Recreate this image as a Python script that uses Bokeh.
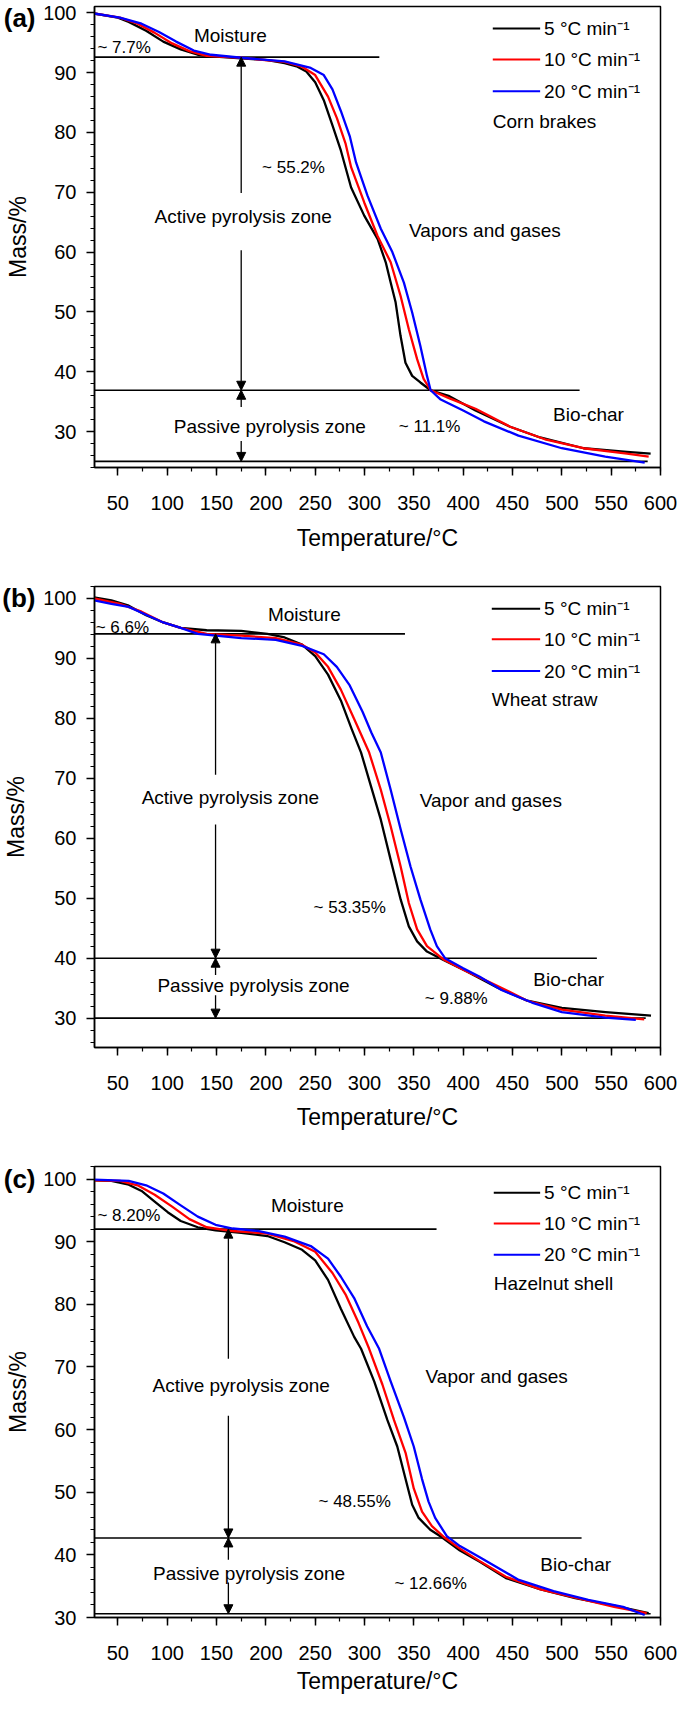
from bokeh.plotting import figure
from bokeh.layouts import column
from bokeh.models import (Label, Arrow, NormalHead, SingleIntervalTicker, FixedTicker,
                          LinearAxis, Range1d)
from bokeh.embed import file_html
from bokeh.resources import INLINE

FONT = "Liberation Sans"

# ---------------- data ----------------
rate_labels = ["5 °C min⁻¹", "10 °C min⁻¹", "20 °C min⁻¹"]
rate_colors = ["#000000", "#ff0000", "#0000ff"]
x_label = "Temperature/°C"
y_label = "Mass/%"

# (a) Corn brakes
a_T5 = [25.8, 50, 61, 78.6, 96, 113.7, 131, 149, 175, 201.6, 219, 232, 241, 250, 258.7, 267.5, 276, 286.4, 299.7, 313.2, 321.5, 326.5, 331.5, 336.5, 341.5, 348.3, 356.6, 367, 386, 412.5, 447.6, 478, 522, 566, 590]
a_M5 = [99.9, 99.2, 98.5, 97.0, 95.2, 93.9, 93.0, 92.7, 92.4, 92.1, 91.6, 91.0, 90.2, 88.4, 85.4, 81.2, 77.0, 70.8, 66.1, 62.2, 58.3, 54.9, 51.6, 46.0, 41.5, 39.3, 38.2, 36.9, 35.9, 33.5, 30.8, 29.0, 27.2, 26.6, 26.3]
a_T10 = [25.8, 52, 70, 87, 105, 122.5, 140, 175, 219, 236.7, 250, 263, 272, 280.7, 286.4, 299.7, 313.2, 326.5, 336.5, 344.9, 353.3, 359.9, 367, 386.8, 412.5, 447.6, 482.8, 522, 566, 588]
a_M10 = [99.9, 99.2, 98.2, 96.7, 94.9, 93.6, 92.8, 92.5, 91.8, 91.0, 89.6, 86.0, 82.4, 78.2, 74.2, 68.3, 62.7, 58.3, 52.7, 47.1, 42.1, 38.8, 36.9, 35.5, 33.8, 30.8, 28.7, 27.2, 26.3, 25.8]
a_T20 = [25.8, 52, 74, 91.7, 109, 127, 144.5, 175, 219, 245.5, 258.7, 267.5, 276, 285, 291.4, 303.1, 316.5, 328.2, 339.9, 348.3, 356.6, 363.3, 367, 376.7, 400, 421, 456, 500, 544, 584]
a_M20 = [99.9, 99.2, 98.2, 96.8, 95.2, 93.7, 93.0, 92.5, 91.9, 90.8, 89.6, 87.2, 83.6, 79.4, 75.0, 69.4, 63.9, 60.0, 54.9, 49.9, 44.3, 39.3, 36.9, 35.4, 33.5, 31.7, 29.3, 27.2, 25.8, 24.8]
a_levels = [92.6, 36.9, 25.0]
a_level_ends = [315, 518, 587]
a_notes = ["Moisture", "~ 7.7%", "~ 55.2%", "Active pyrolysis zone", "Vapors and gases",
           "Bio-char", "~ 11.1%", "Passive pyrolysis zone"]

# (b) Wheat straw
b_T5 = [25.8, 43.4, 61, 78.6, 96, 113.7, 140, 175, 201.6, 219, 236.7, 250, 263, 276, 287, 296.5, 306.5, 316.5, 326.5, 336.6, 344.9, 353.3, 363.3, 380, 403.7, 434.4, 465, 500, 544.3, 590.4]
b_M5 = [100.2, 99.7, 98.8, 97.2, 96.0, 95.1, 94.7, 94.6, 94.1, 93.5, 92.3, 90.4, 87.3, 83.0, 78.2, 74.3, 68.7, 63.1, 56.4, 49.8, 45.3, 42.8, 41.1, 39.7, 37.8, 35.1, 32.9, 31.7, 31.0, 30.4]
b_T10 = [25.8, 52, 74, 96, 113.7, 140, 175, 210, 236.7, 250, 263, 276, 289.5, 304.7, 316.5, 326.5, 336.6, 344.9, 353.3, 363.3, 380, 403.7, 434.4, 465, 500, 544, 583.5]
b_M10 = [100.0, 99.1, 97.8, 96.0, 95.1, 94.1, 93.8, 93.4, 92.3, 91.0, 88.6, 84.8, 79.9, 74.3, 68.1, 62.0, 55.3, 49.2, 44.8, 42.0, 39.8, 37.8, 35.4, 32.9, 31.4, 30.4, 29.8]
b_T20 = [25.8, 43.4, 61, 78.6, 96, 113.7, 131, 175, 210, 236.7, 258.7, 271.9, 285, 298, 307, 316.5, 326.5, 336.6, 346.6, 356.6, 366.6, 373.3, 381.6, 400, 416.8, 438.8, 469.6, 500, 544, 575]
b_M20 = [99.7, 99.1, 98.6, 97.3, 96.0, 95.1, 94.1, 93.4, 93.1, 92.1, 90.7, 88.6, 85.5, 81.1, 77.6, 74.3, 68.1, 61.5, 55.3, 49.8, 44.8, 42.0, 40.0, 38.3, 36.9, 34.7, 32.6, 31.0, 30.1, 29.7]
b_levels = [94.1, 40.0, 30.0]
b_level_ends = [341, 535.5, 585]
b_notes = ["Moisture", "~ 6.6%", "~ 53.35%", "Active pyrolysis zone", "Vapor and gases",
           "Bio-char", "~ 9.88%", "Passive pyrolysis zone"]

# (c) Hazelnut shell
c_T5 = [25.8, 43.4, 61, 74, 87.3, 100.5, 113.7, 131, 149, 175, 201.6, 219, 236.7, 250, 263, 276, 289.5, 296.5, 309.8, 323.2, 333.2, 341.6, 348.3, 354.9, 366.6, 378.4, 396.7, 416.8, 443.3, 478.5, 513.6, 553, 588]
c_M5 = [99.8, 99.7, 99.1, 98.1, 96.4, 94.7, 93.3, 92.3, 91.8, 91.4, 90.9, 89.9, 88.7, 87.0, 83.9, 79.3, 74.8, 72.9, 67.7, 61.5, 57.3, 52.1, 48.0, 45.9, 44.0, 42.8, 40.7, 38.9, 36.3, 34.5, 33.1, 31.9, 30.7]
c_T10 = [25.8, 52, 70, 87.3, 105, 122.5, 140, 166.4, 201.6, 228, 250, 267.5, 280.7, 294, 304.7, 318.1, 329.9, 341.6, 349.9, 358.3, 368.3, 380, 396.7, 416.8, 443.3, 478.5, 518, 553, 586]
c_M10 = [99.8, 99.7, 99.0, 97.5, 95.6, 93.6, 92.3, 91.7, 91.3, 90.1, 88.4, 85.0, 81.6, 77.0, 72.9, 67.2, 61.5, 56.3, 50.6, 46.9, 44.6, 42.9, 41.0, 39.0, 36.5, 34.5, 33.0, 31.7, 30.7]
c_T20 = [25.8, 61, 78.6, 96, 113.7, 131, 149, 166.4, 193, 219, 245.5, 263, 276, 289.5, 302.6, 314.8, 326.5, 339.9, 349.9, 358.3, 364.9, 371.6, 383.4, 396.7, 416.8, 456.4, 491.6, 526.8, 562, 584]
c_M20 = [99.9, 99.7, 99.0, 97.7, 95.8, 94.0, 92.7, 92.1, 91.7, 90.8, 89.3, 87.3, 84.4, 81.0, 76.5, 72.9, 67.7, 62.0, 57.3, 52.1, 48.5, 45.9, 43.0, 41.4, 39.6, 36.0, 34.2, 32.8, 31.7, 30.4]
c_levels = [92.0, 42.7, 30.6]
c_level_ends = [373, 520, 590]
c_notes = ["Moisture", "~ 8.20%", "~ 48.55%", "Active pyrolysis zone", "Vapor and gases",
           "Bio-char", "~ 12.66%", "Passive pyrolysis zone"]

# ---------------- layout (positions / styles) ----------------
X_START, X_END = 26.3, 600
W = 677
TAG_LEVEL = 100
panels = [
    dict(tag="(a)", sample="Corn brakes", T=[a_T5, a_T10, a_T20], M=[a_M5, a_M10, a_M20],
         levels=a_levels, ends=a_level_ends, notes=a_notes, yr=(23.98, 101.07), h=580, bb=113, std=12,
         arrow_x=175, gaps=[(69.9, 60.3), (34.1, 28.4)],
         note_xy=[(164, 96.3), (29.3, 94.2), (228, 74.2), (177, 66.0), (422, 63.6), (527, 32.8), (366, 30.8), (204, 30.8)],
         leg_y=[97.4, 92.2, 86.9], sample_y=81.9, leg_x=(430, 478)),
    dict(tag="(b)", sample="Wheat straw", T=[b_T5, b_T10, b_T20], M=[b_M5, b_M10, b_M20],
         levels=b_levels, ends=b_level_ends, notes=b_notes, yr=(25.1, 102.0), h=580, bb=113, std=11,
         arrow_x=149, gaps=[(70.6, 62.3), (37.2, 33.8)],
         note_xy=[(239, 97.3), (27.5, 95.2), (285, 48.4), (164, 66.8), (428, 66.3), (507, 36.5), (393, 33.2), (187.5, 35.4)],
         leg_y=[98.3, 93.2, 87.9], sample_y=83.1, leg_x=(429, 478)),
    dict(tag="(c)", sample="Hazelnut shell", T=[c_T5, c_T10, c_T20], M=[c_M5, c_M10, c_M20],
         levels=c_levels, ends=c_level_ends, notes=c_notes, yr=(30.0, 102.0), h=536, bb=69, std=5,
         arrow_x=162, gaps=[(71.3, 62.2), (39.2, 35.6)],
         note_xy=[(242, 95.7), (29.3, 94.2), (290, 48.5), (175, 67.0), (434, 68.5), (514, 38.4), (367, 35.5), (183, 37.1)],
         leg_y=[97.8, 92.9, 87.9], sample_y=83.3, leg_x=(431, 478)),
]
note_align = ["center", "left", "center", "center", "center", "center", "center", "center"]
note_size = ["19px", "17px", "17px", "19px", "19px", "19px", "17px", "19px"]


def arrow(p, x, y0, y1):
    p.add_layout(Arrow(end=NormalHead(size=9, line_color="black", fill_color="black", line_width=1),
                       x_start=x, y_start=y0, x_end=x, y_end=y1,
                       line_color="black", line_width=1.3))


def style_axis(ax):
    ax.axis_line_width = 1.5
    ax.major_tick_line_width = 1.5
    ax.minor_tick_line_width = 1.2
    ax.major_tick_in = 0
    ax.major_tick_out = 8
    ax.minor_tick_in = 0
    ax.minor_tick_out = 4
    ax.major_label_text_font = FONT
    ax.major_label_text_font_size = "20px"
    ax.major_label_text_color = "black"
    ax.axis_label_text_font = FONT
    ax.axis_label_text_font_size = "23px"
    ax.axis_label_text_font_style = "normal"
    ax.axis_label_text_color = "black"


def make_panel(cfg):
    p = figure(width=W, height=cfg["h"], output_backend="svg", toolbar_location=None,
               x_range=Range1d(X_START, X_END), y_range=Range1d(*cfg["yr"]),
               min_border_left=88, min_border_right=17, min_border_top=6, min_border_bottom=cfg["bb"],
               background_fill_color="white", border_fill_color="white")
    p.grid.visible = False
    p.outline_line_color = "black"
    p.outline_line_width = 1.5

    xax = p.xaxis[0]
    yax = p.yaxis[0]
    style_axis(xax)
    style_axis(yax)
    xax.ticker = SingleIntervalTicker(interval=50, num_minor_ticks=2)
    yax.ticker = SingleIntervalTicker(interval=10, num_minor_ticks=5)
    xax.axis_label = x_label
    xax.major_label_standoff = 20
    xax.axis_label_standoff = cfg["std"]
    yax.major_label_standoff = 10

    # outer left axis: carries the panel tag "(a)" and the y-axis title
    tag_ax = LinearAxis(ticker=FixedTicker(ticks=[TAG_LEVEL], minor_ticks=[]),
                        major_label_overrides={TAG_LEVEL: cfg["tag"]},
                        axis_line_color=None, major_tick_line_color=None, minor_tick_line_color=None,
                        major_tick_in=0, major_tick_out=0, minor_tick_in=0, minor_tick_out=0,
                        major_label_standoff=5,
                        major_label_text_font=FONT, major_label_text_font_size="26px",
                        major_label_text_font_style="bold", major_label_text_color="black",
                        axis_label=y_label, axis_label_text_font=FONT, axis_label_text_font_size="23px",
                        axis_label_text_font_style="normal", axis_label_text_color="black",
                        axis_label_standoff=-30)
    p.add_layout(tag_ax, "left")

    # zone boundary lines
    p.segment(x0=[X_START] * len(cfg["levels"]), y0=cfg["levels"], x1=cfg["ends"], y1=cfg["levels"],
              line_color="black", line_width=1.6)

    # curves
    for T, M, col in zip(cfg["T"], cfg["M"], rate_colors):
        p.line(T, M, line_color=col, line_width=2.3, line_join="round")

    # arrows
    lv = cfg["levels"]
    (g1t, g1b), (g2t, g2b) = cfg["gaps"]
    ax_ = cfg["arrow_x"]
    arrow(p, ax_, g1t, lv[0])
    arrow(p, ax_, g1b, lv[1])
    arrow(p, ax_, g2t, lv[1])
    arrow(p, ax_, g2b, lv[2])

    # annotations
    for txt, (x, y), al, fs in zip(cfg["notes"], cfg["note_xy"], note_align, note_size):
        p.add_layout(Label(x=x, y=y, text=txt, text_align=al, text_baseline="middle",
                           text_font=FONT, text_font_size=fs, text_color="black"))

    # legend
    lx0, lx1 = cfg["leg_x"]
    for lab, col, y in zip(rate_labels, rate_colors, cfg["leg_y"]):
        p.line([lx0, lx1], [y, y], line_color=col, line_width=2)
        p.add_layout(Label(x=lx1 + 4, y=y, text=lab, text_align="left", text_baseline="middle",
                           text_font=FONT, text_font_size="19px", text_color="black"))
    p.add_layout(Label(x=lx0, y=cfg["sample_y"], text=cfg["sample"], text_align="left", text_baseline="middle",
                       text_font=FONT, text_font_size="19px", text_color="black"))
    return p


figs = [make_panel(c) for c in panels]
layout = column(*figs, spacing=0)
open("out.html", "w").write(file_html(layout, INLINE))
